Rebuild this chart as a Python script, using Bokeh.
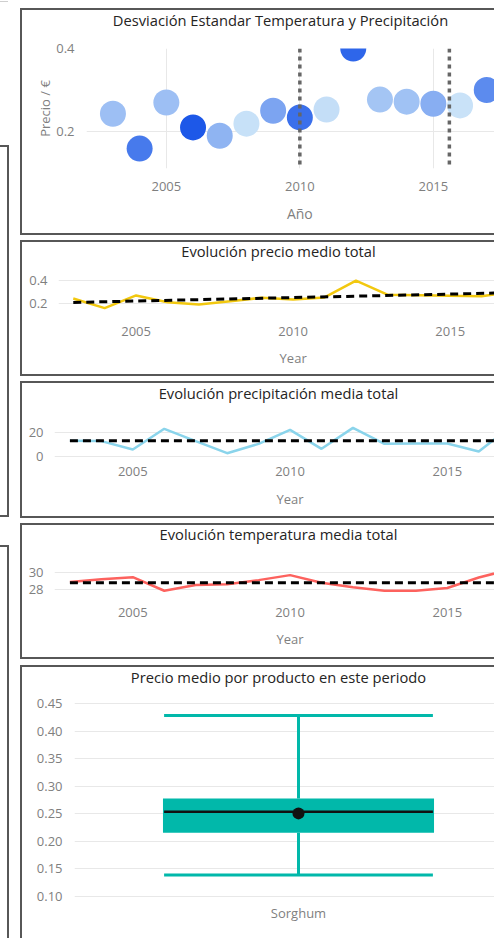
import numpy as np
from bokeh.plotting import figure
from bokeh.models import (ColumnDataSource, FixedTicker, Span, LinearColorMapper, LinearAxis,
                          Range1d, Div, NumeralTickFormatter)
from bokeh.layouts import column, row
from bokeh.transform import transform
from bokeh.embed import file_html
from bokeh.resources import INLINE

# ---- data ----
years = [2003, 2004, 2005, 2006, 2007, 2008, 2009, 2010, 2011, 2012, 2013, 2014, 2015, 2016, 2017]
precio = [0.243, 0.159, 0.270, 0.210, 0.190, 0.219, 0.250, 0.234, 0.253, 0.400, 0.277, 0.272, 0.267, 0.263, 0.300]
desviacion = [0.27, 0.76, 0.27, 1.0, 0.35, 0.03, 0.46, 0.83, 0.05, 0.90, 0.23, 0.25, 0.39, 0.02, 0.64]
precipitacion = [13.2, 13.0, 5.9, 23.4, 13.0, 2.8, 10.7, 22.5, 6.5, 24.2, 10.7, 11.0, 11.0, 4.2, 25.0]
temperatura = [28.89, 29.19, 29.44, 27.89, 28.55, 28.63, 29.10, 29.67, 28.81, 28.30, 27.89, 27.90, 28.20, 29.40, 30.30]

tendencia_years = [2003, 2017]
precio_tendencia = [0.209, 0.294]
precip_tendencia = [13.2, 13.2]
temp_tendencia = [28.81, 28.81]

marcas_year = [2010, 2015.6]
year_ticks = [2005, 2010, 2015]

productos = ["Sorghum"]
caja_min = [0.139]
caja_q1 = [0.216]
caja_mediana = [0.254]
caja_q3 = [0.278]
caja_max = [0.429]
caja_media = [0.251]
caja_ticks = [0.10, 0.15, 0.20, 0.25, 0.30, 0.35, 0.40, 0.45]

# ---- styling ----
FONT = "Open Sans"
TITLE_COLOR = "#252423"
LABEL_COLOR = "#7f7f7f"
GRID_COLOR = "#e8e8e8"
EDGE = "#575757"
TEAL = "#01B8AA"
LIFT = 5  # each chart canvas starts a little above its frame line


def blues(n=256):
    c0 = np.array([0xCC, 0xE5, 0xF8])
    c1 = np.array([0x1D, 0x58, 0xE8])
    out = []
    for t in np.linspace(0, 1, n):
        c = (c0 + (c1 - c0) * t).round().astype(int)
        out.append("#%02x%02x%02x" % tuple(c))
    return out


def plain_axis(ax, size="13px", color=LABEL_COLOR):
    ax.axis_line_color = None
    ax.major_tick_line_color = None
    ax.minor_tick_line_color = None
    ax.major_tick_out = 0
    ax.major_tick_in = 0
    ax.major_label_text_font = FONT
    ax.major_label_text_font_size = size
    ax.major_label_text_color = color
    ax.axis_label_text_font = FONT
    ax.axis_label_text_font_size = "13px"
    ax.axis_label_text_color = LABEL_COLOR
    ax.axis_label_text_font_style = "normal"


def panel(width, height, x_range, y_range, mb):
    p = figure(width=width, height=height + LIFT, x_range=x_range, y_range=y_range,
               toolbar_location=None, output_backend="svg",
               min_border_left=mb[0], min_border_right=mb[1],
               min_border_top=mb[2] + LIFT, min_border_bottom=mb[3])
    p.margin = 0
    p.outline_line_color = None
    p.background_fill_color = "white"
    p.border_fill_color = None
    plain_axis(p.xaxis[0])
    plain_axis(p.yaxis[0])
    p.xgrid.grid_line_color = None
    p.ygrid.grid_line_color = GRID_COLOR
    return p


def add_title(p, frame_w, cx, text, standoff):
    # heading centred at a pixel offset from the left edge of the plot area
    p.extra_x_ranges["px"] = Range1d(0, frame_w)
    ax = LinearAxis(x_range_name="px", ticker=FixedTicker(ticks=[cx]),
                    major_label_overrides={cx: text})
    plain_axis(ax, size="14.7px", color=TITLE_COLOR)
    ax.major_label_standoff = standoff
    p.add_layout(ax, "above")


def add_xname(p, at, text, standoff, size="13px"):
    ax = LinearAxis(ticker=FixedTicker(ticks=[at]), major_label_overrides={at: text})
    plain_axis(ax, size=size)
    ax.major_label_standoff = standoff
    p.add_layout(ax, "below")


# ---- 1: scatter of price per year, coloured by deviation ----
src = ColumnDataSource(dict(year=years, precio=precio, desviacion=desviacion))
p1 = panel(472, 223, (2002.01, 2017.29), (0.111, 0.4), (64, 0, 38, 65))
p1.xgrid.grid_line_color = GRID_COLOR
p1.xaxis[0].ticker = FixedTicker(ticks=year_ticks)
p1.yaxis.ticker = FixedTicker(ticks=[0.2, 0.4])
p1.yaxis.formatter = NumeralTickFormatter(format="0.0")
p1.xaxis[0].major_label_standoff = 13
p1.yaxis.major_label_standoff = 12
p1.yaxis.axis_label = "Precio / €"
p1.yaxis.axis_label_standoff = -1
mapper = LinearColorMapper(palette=blues(), low=0, high=1)
p1.scatter("year", "precio", source=src, size=26,
           fill_color=transform("desviacion", mapper), line_color=None)
for m in marcas_year:
    p1.add_layout(Span(location=m, dimension="height", line_color="#666666",
                       line_width=3.5, line_dash="4 4"))
add_title(p1, 408, 194, "Desviación Estandar Temperatura y Precipitación", 19)
add_xname(p1, 2010, "Año", 10, size="14px")


def line_panel(values, trend, color, xr, yr, ticks, fmt, mb, tick_sd, name_sd, title, title_cx, title_sd, fw):
    p = panel(472, mb[4], xr, yr, mb[:4])
    p.xaxis[0].ticker = FixedTicker(ticks=year_ticks)
    p.yaxis.ticker = FixedTicker(ticks=ticks)
    if fmt:
        p.yaxis.formatter = NumeralTickFormatter(format=fmt)
    p.xaxis[0].major_label_standoff = tick_sd
    p.yaxis.major_label_standoff = 11
    p.line(years, values, line_color=color, line_width=2.5)
    p.line(tendencia_years, trend, line_color="black", line_width=3, line_dash="8 5")
    add_title(p, fw, title_cx, title, title_sd)
    add_xname(p, 2010, "Year", name_sd)
    return p


p2 = line_panel(precio, precio_tendencia, "#F2C80F", (2002.53, 2016.41), (0.112, 0.4795),
                [0.2, 0.4], "0.0", (36, 0, 28, 61, 132), 13, 10,
                "Evolución precio medio total", 220, 11, 436)
p3 = line_panel(precipitacion, precip_tendencia, "#8AD4EB", (2002.51, 2016.5), (-5.06, 30.4),
                [0, 20], None, (32, 0, 37, 54, 133), 4, 11,
                "Evolución precipitación media total", 224, 18, 440)
p4 = line_panel(temperatura, temp_tendencia, "#FD625E", (2002.51, 2016.5), (26.78, 31.22),
                [28, 30], None, (32, 0, 35, 57, 132), 7, 10,
                "Evolución temperatura media total", 224, 18, 440)

# ---- 5: box plot of average price per product ----
idx = list(range(len(productos)))
p5 = panel(472, 271, (-0.5, 0.4375), (0.0982, 0.4615), (52, 0, 30, 41))
p5.xaxis[0].ticker = FixedTicker(ticks=idx)
p5.xaxis[0].major_label_overrides = {i: n for i, n in zip(idx, productos)}
p5.xaxis[0].major_label_standoff = 6
p5.yaxis.ticker = FixedTicker(ticks=caja_ticks)
p5.yaxis.formatter = NumeralTickFormatter(format="0.00")
p5.yaxis.major_label_standoff = 12
half = 0.3
p5.segment(idx, caja_min, idx, caja_q1, line_color=TEAL, line_width=3)
p5.segment(idx, caja_q3, idx, caja_max, line_color=TEAL, line_width=3)
p5.segment([i - half for i in idx], caja_max, [i + half for i in idx], caja_max, line_color=TEAL, line_width=3)
p5.segment([i - half for i in idx], caja_min, [i + half for i in idx], caja_min, line_color=TEAL, line_width=3)
p5.vbar(x=idx, width=0.605, bottom=caja_q1, top=caja_q3, fill_color=TEAL, line_color=None)
p5.segment([i - 0.3 for i in idx], caja_mediana, [i + 0.3 for i in idx], caja_mediana,
           line_color="#111111", line_width=2.5)
p5.scatter(idx, caja_media, size=12, fill_color="#111111", line_color=None)
add_title(p5, 420, 204, "Precio medio por producto en este periodo", 11)


# ---- frames around the visuals ----
def box(w, h, top=0, color=EDGE):
    st = {"overflow": "hidden", "position": "relative", "z-index": "5"}
    if color:
        st["background-color"] = color
    return Div(text="", width=w, height=h, margin=(top, 0, 0, 0), styles=st)


def hline(w, top=0):
    return box(w, 2, top)


def vline(h, top=0):
    return box(2, h, top)


def strip(h, fig):
    # left frame line plus chart; the chart canvas reaches LIFT px above the line
    return row(vline(h, LIFT), fig, spacing=0, margin=(-LIFT, 0, 0, 0))


right = column(
    hline(474, 8), strip(223, p1), hline(474),
    hline(474, 5), strip(132, p2), hline(474),
    hline(474, 5), strip(133, p3), hline(474),
    hline(474, 5), strip(132, p4), hline(474),
    hline(474, 6), strip(271, p5),
    spacing=0, margin=(0, 0, 0, 11))

# neighbouring visuals cut by the left edge
left = column(
    box(8, 1, 1, color="#cfcfcf"),
    hline(9, 143), row(box(7, 368, color=None), vline(368), spacing=0, margin=0), hline(9),
    hline(9, 28), row(box(7, 391, color=None), vline(391), spacing=0, margin=0),
    spacing=0, margin=0)

layout = row(left, right, spacing=0, margin=0)

open("out.html", "w").write(file_html(layout, INLINE))
